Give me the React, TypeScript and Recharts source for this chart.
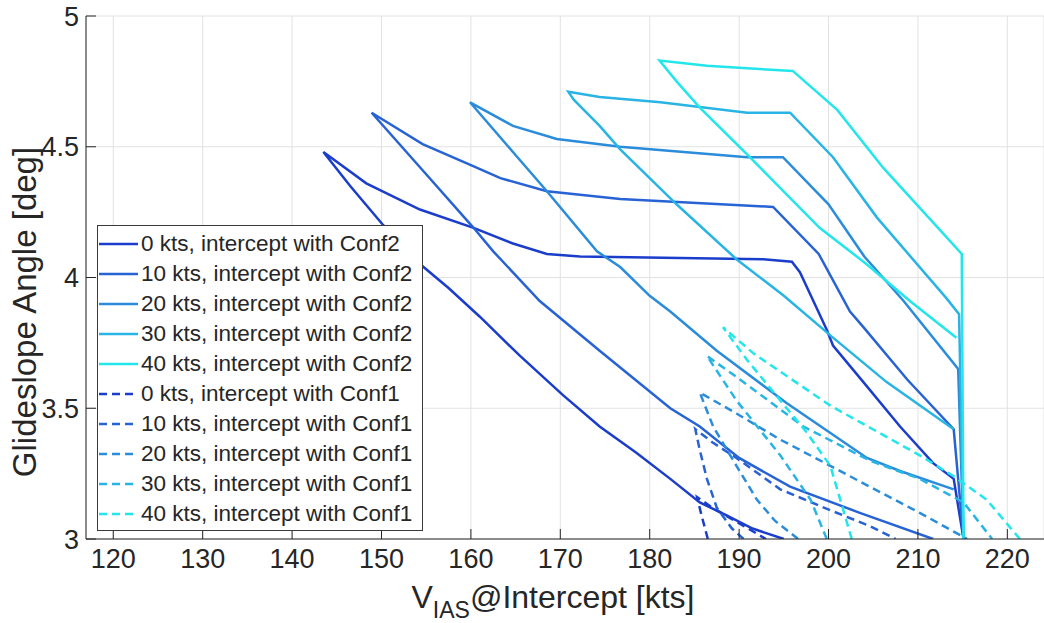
import React from 'react';
import { LineChart, Line, XAxis, YAxis, CartesianGrid, Legend } from 'recharts';

type Pt = [number, number];

const FONT = '"Liberation Sans", Arial, Helvetica, sans-serif';
const TEXT = '#262626';

const WINDS = [0, 10, 20, 30, 40];
const COLORS = ['#1b3dcc', '#2763d4', '#2a8cda', '#28b4e4', '#22e6ea'];

const X_TICKS = [120, 130, 140, 150, 160, 170, 180, 190, 200, 210, 220];
const Y_TICKS = [3, 3.5, 4, 4.5, 5];

// Conf2 envelopes: lower branch (end -> peak), then upper branch down to the speed limit
const conf2Wind0: Pt[] = [
  [195.0, 3.0], [191.5, 3.04], [188.6, 3.09], [185.6, 3.14], [182.3, 3.23], [178.5, 3.33],
  [174.4, 3.43], [170.3, 3.55], [165.5, 3.7], [161.0, 3.85], [157.5, 3.96], [154.7, 4.04],
  [150.2, 4.2], [146.5, 4.35], [143.5, 4.48],
  [148.3, 4.36], [154.3, 4.26], [160.3, 4.19], [164.7, 4.13], [168.5, 4.09], [172.2, 4.08],
  [192.7, 4.07], [195.9, 4.06], [196.8, 4.02], [197.9, 3.94], [199.8, 3.8], [200.5, 3.74],
  [203.9, 3.6], [208.0, 3.43], [211.7, 3.29], [214.0, 3.23], [215.1, 3.0],
];
const conf2Wind10: Pt[] = [
  [211.7, 3.0], [203.5, 3.1], [195.7, 3.2], [190.0, 3.31], [185.6, 3.43], [182.3, 3.5],
  [174.4, 3.72], [167.7, 3.91], [162.5, 4.1], [160.3, 4.19], [154.6, 4.41], [148.9, 4.63],
  [154.6, 4.51], [160.0, 4.43], [163.3, 4.38], [168.5, 4.33], [176.7, 4.3], [193.8, 4.27],
  [198.9, 4.09], [202.4, 3.87], [203.9, 3.81], [208.8, 3.61], [214.0, 3.42], [215.1, 3.0],
];
const conf2Wind20: Pt[] = [
  [214.0, 3.19], [208.0, 3.26], [204.3, 3.31], [195.3, 3.52], [187.5, 3.72], [182.3, 3.87],
  [180.0, 3.93], [176.7, 4.04], [174.1, 4.1], [168.5, 4.33], [164.7, 4.48], [159.9, 4.67],
  [164.7, 4.58], [169.6, 4.53], [176.7, 4.5], [190.9, 4.46], [194.9, 4.46], [200.0, 4.28],
  [204.0, 4.08], [208.4, 3.91], [214.5, 3.65], [215.1, 3.0],
];
const conf2Wind30: Pt[] = [
  [214.0, 3.42], [206.5, 3.6], [200.5, 3.77], [195.0, 3.93], [189.7, 4.07], [183.0, 4.28],
  [176.7, 4.49], [174.4, 4.58], [171.5, 4.68], [170.9, 4.71],
  [174.4, 4.69], [181.2, 4.67], [190.9, 4.63], [195.7, 4.63], [200.5, 4.46], [205.4, 4.23],
  [213.2, 3.92], [214.6, 3.86], [215.1, 3.0],
];
const conf2Wind40: Pt[] = [
  [214.3, 3.77], [209.1, 3.91], [204.3, 4.05], [199.0, 4.19], [191.2, 4.46], [185.6, 4.65],
  [183.0, 4.75], [181.1, 4.83],
  [186.4, 4.81], [190.9, 4.8], [196.0, 4.79], [201.0, 4.64], [206.1, 4.42], [214.9, 4.09],
  [215.1, 3.0],
];

// Conf1 envelopes: steep branch (end -> peak), then the shallow branch
const conf1Wind0: Pt[] = [
  [186.5, 3.0], [185.8, 3.09], [185.3, 3.16], [187.0, 3.12], [189.0, 3.08], [190.5, 3.05], [193.0, 3.0],
];
const conf1Wind10: Pt[] = [
  [190.5, 3.0], [189.2, 3.04], [187.5, 3.12], [186.4, 3.23], [185.6, 3.34], [185.1, 3.42],
  [187.0, 3.37], [189.7, 3.31], [194.6, 3.19], [200.2, 3.11], [204.6, 3.05], [207.5, 3.0],
];
const conf1Wind20: Pt[] = [
  [196.6, 3.0], [194.0, 3.07], [192.0, 3.15], [189.7, 3.28], [187.1, 3.43], [185.6, 3.56],
  [189.7, 3.48], [194.6, 3.38], [200.2, 3.28], [204.6, 3.2], [210.2, 3.1], [215.5, 3.0],
];
const conf1Wind30: Pt[] = [
  [199.8, 3.0], [198.0, 3.15], [194.6, 3.32], [189.7, 3.53], [186.4, 3.7],
  [189.7, 3.62], [197.2, 3.43], [204.6, 3.3], [210.2, 3.23], [215.1, 3.14], [218.3, 3.0],
];
const conf1Wind40: Pt[] = [
  [202.6, 3.0], [200.2, 3.28], [197.5, 3.41], [194.6, 3.53], [191.0, 3.68], [188.2, 3.81],
  [191.6, 3.71], [200.2, 3.51], [210.2, 3.32], [214.0, 3.24], [217.7, 3.15], [221.4, 3.0],
];

const CONF2 = [conf2Wind0, conf2Wind10, conf2Wind20, conf2Wind30, conf2Wind40];
const CONF1 = [conf1Wind0, conf1Wind10, conf1Wind20, conf1Wind30, conf1Wind40];

const toPoints = (pts: Pt[]) => pts.map(([x, y]) => ({ x, y }));

const series = [
  ...CONF2.map((pts, i) => ({
    name: `${WINDS[i]} kts, intercept with Conf2`, color: COLORS[i], dashed: false, data: toPoints(pts),
  })),
  ...CONF1.map((pts, i) => ({
    name: `${WINDS[i]} kts, intercept with Conf1`, color: COLORS[i], dashed: true, data: toPoints(pts),
  })),
];

const DASH = '8 5';

function LegendBox() {
  return (
    <div
      style={{
        width: 324, height: 301, border: '1px solid #3a3a3a', background: '#fff',
        fontFamily: FONT, fontSize: 22.5, color: TEXT, paddingTop: 3, boxSizing: 'content-box',
      }}
    >
      {series.map((s) => (
        <div key={s.name} style={{ height: 30, display: 'flex', alignItems: 'center', whiteSpace: 'nowrap' }}>
          <svg width={43} height={30} style={{ flex: 'none' }}>
            <line x1={1} x2={40} y1={15} y2={15} stroke={s.color} strokeWidth={2.5}
              strokeDasharray={s.dashed ? DASH : undefined} />
          </svg>
          <span>{s.name}</span>
        </div>
      ))}
    </div>
  );
}

function XTitle() {
  return (
    <text x={553} y={608} textAnchor="middle" fontFamily={FONT} fontSize={32} fill={TEXT}>
      <tspan>V</tspan>
      <tspan fontSize={23} dy={10}>IAS</tspan>
      <tspan dy={-10}>@Intercept [kts]</tspan>
    </text>
  );
}

function YTitle() {
  return (
    <text x={0} y={0} transform="translate(36, 312) rotate(-90)" textAnchor="middle"
      fontFamily={FONT} fontSize={33} fill={TEXT}>
      Glideslope Angle [deg]
    </text>
  );
}

export default function App() {
  const tickStyle = { fontSize: 27, fill: TEXT, fontFamily: FONT };
  return (
    <div style={{ position: 'fixed', left: 0, top: 0, width: 1044, height: 623, background: '#fff' }}>
      <LineChart width={1044} height={623} margin={{ top: 16, right: 0, bottom: 0, left: 0 }}>
        <CartesianGrid stroke="#e2e2e2" strokeWidth={1} />
        <XAxis
          type="number" dataKey="x" domain={[116.95, 224.1]} allowDataOverflow
          ticks={X_TICKS} interval={0} height={84}
          stroke={TEXT} tickSize={-10} tickMargin={20} tick={tickStyle}
          label={{ content: () => <XTitle /> }}
        />
        <YAxis
          type="number" dataKey="y" domain={[3, 5]} allowDataOverflow
          ticks={Y_TICKS} interval={0} width={86}
          stroke={TEXT} tickSize={-10} tickMargin={17} tick={tickStyle}
          label={{ content: () => <YTitle /> }}
        />
        {series.map((s) => (
          <Line
            key={s.name} data={s.data} dataKey="y" name={s.name} type="linear"
            stroke={s.color} strokeWidth={2.5} strokeDasharray={s.dashed ? DASH : undefined}
            dot={false} activeDot={false} isAnimationActive={false}
          />
        ))}
        <Legend
          layout="vertical" align="center" verticalAlign="middle"
          content={() => <LegendBox />}
          wrapperStyle={{ left: 97, top: 225, width: 'auto', height: 'auto' }}
        />
      </LineChart>
    </div>
  );
}
